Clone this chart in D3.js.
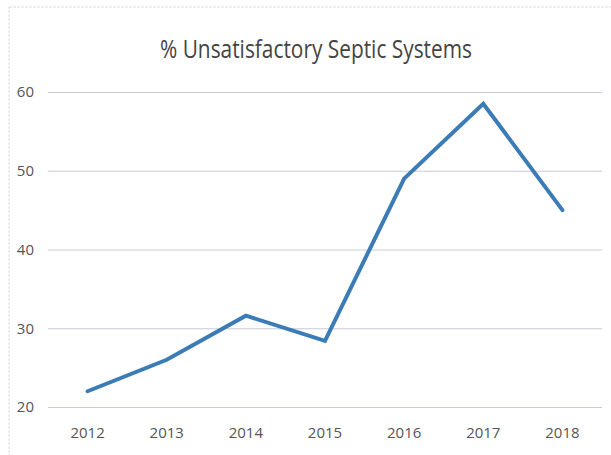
<!DOCTYPE html>
<html>
<head>
<meta charset="utf-8">
<script src="https://cdn.jsdelivr.net/npm/d3@7"></script>
<style>
  body { margin: 0; background: #fff; }
  .grid line { stroke: #c9c9dc; stroke-width: 1.2px; }
  .grid path { display: none; }
  .eje text { fill: #555; font-family: "Liberation Sans Narrow", "Open Sans", sans-serif; font-size: 15px; }
  .eje path, .eje line { display: none; }
  .line { fill: none; stroke: #3b7cb6; stroke-width: 4px; stroke-linejoin: miter; stroke-linecap: round; }
</style>
</head>
<body>
<svg id="contenedor"></svg>
<script>
// datos del grafico
let anios = ["2012", "2013", "2014", "2015", "2016", "2017", "2018"];
let valores = [22.0, 26.0, 31.6, 28.4, 49.0, 58.5, 45.0];
let ticksY = [20, 30, 40, 50, 60];
let titulo = "% Unsatisfactory Septic Systems";

// configuracion del area de dibujo
function getConfig(contenedor, w = 611, h = 455) {
  let margin = { top: 92, bottom: 48, left: 48, right: 9 };
  let bodyWidth = w - margin.left - margin.right;
  let bodyHeight = h - margin.top - margin.bottom;
  let container = d3.select(contenedor).attr("width", w).attr("height", h);
  return { width: w, height: h, margin, bodyWidth, bodyHeight, container };
} // fin getConfig

// escalas
function getScales(config) {
  let { bodyWidth, bodyHeight } = config;
  let xScale = d3.scaleBand().domain(anios).range([0, bodyWidth]);
  let yScale = d3.scaleLinear().domain([20, 60]).range([bodyHeight, 0]);
  return { xScale, yScale };
} // fin getScales

// marco y titulo
function dibujarMarco(config) {
  let { container, width } = config;
  container.append("rect")
    .attr("x", 9).attr("y", 7)
    .attr("width", width + 10).attr("height", 500)
    .attr("fill", "none")
    .attr("stroke", "#dcdcdc")
    .attr("stroke-dasharray", "3,1");

  container.append("text")
    .attr("x", 316).attr("y", 58)
    .attr("text-anchor", "middle")
    .attr("textLength", 312)
    .attr("lengthAdjust", "spacingAndGlyphs")
    .style("font-family", "'Liberation Sans Narrow', 'Open Sans', sans-serif")
    .style("font-size", "25px")
    .style("fill", "#444")
    .text(titulo);
} // fin dibujarMarco

// ejes y rejilla
function dibujarEjes(scales, config) {
  let { xScale, yScale } = scales;
  let { container, margin, bodyWidth, bodyHeight } = config;

  container.append("g")
    .attr("class", "grid")
    .attr("transform", `translate(${margin.left}, ${margin.top})`)
    .call(d3.axisLeft(yScale).tickValues(ticksY).tickSize(-bodyWidth).tickFormat(""));

  container.append("g")
    .attr("class", "eje")
    .attr("transform", `translate(${margin.left - 10}, ${margin.top})`)
    .call(d3.axisLeft(yScale).tickValues(ticksY).tickSize(0).tickPadding(4));

  container.append("g")
    .attr("class", "eje")
    .attr("transform", `translate(${margin.left}, ${margin.top + bodyHeight})`)
    .call(d3.axisBottom(xScale).tickSize(0).tickPadding(20));
} // fin dibujarEjes

// linea
function dibujarLinea(scales, config) {
  let { xScale, yScale } = scales;
  let { container, margin } = config;
  let datos = anios.map((a, i) => ({ anio: a, valor: valores[i] }));

  let line = d3.line()
    .x(d => xScale(d.anio) + xScale.bandwidth() / 2)
    .y(d => yScale(d.valor));

  container.append("g")
    .attr("transform", `translate(${margin.left}, ${margin.top})`)
    .append("path")
    .datum(datos)
    .attr("class", "line")
    .attr("d", line);
} // fin dibujarLinea

let config = getConfig("#contenedor");
let scales = getScales(config);
dibujarMarco(config);
dibujarEjes(scales, config);
dibujarLinea(scales, config);
</script>
</body>
</html>
